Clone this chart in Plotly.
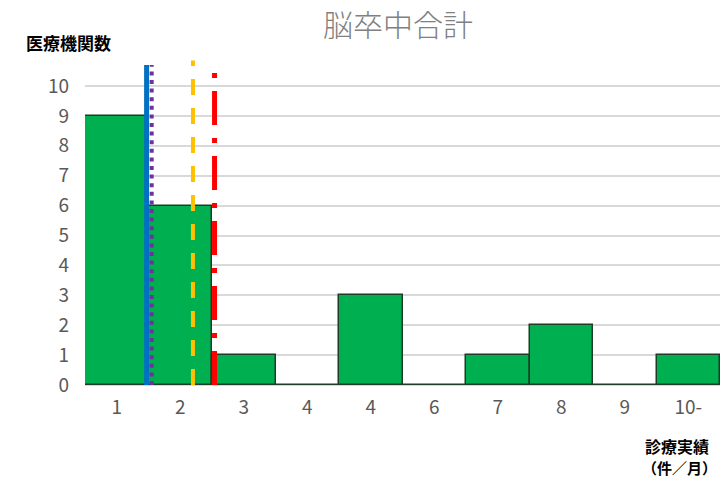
import plotly.graph_objects as go

categories = ["1", "2", "3", "4", "4", "6", "7", "8", "9", "10-"]
counts = [9, 6, 1, 0, 3, 0, 1, 2, 0, 1]

# reference lines (positions on the category index scale)
line_names = ["blue", "purple", "yellow", "red"]
line_x = [0.47, 0.55, 1.20, 1.54]
line_top = [10.7, 10.7, 10.85, 10.55]
line_colors = ["#0070C0", "#7030A0", "#FFC000", "#FF0000"]
line_widths = [5, 4, 4, 5]
line_dash = ["solid", "4px,4.6px", "16px,13px", "34px,13px,5px,13px"]

idx = list(range(len(categories)))

fig = go.Figure()
fig.add_trace(go.Bar(
    x=idx, y=counts, width=1.0,
    marker=dict(color="#00B050", line=dict(color="#1E3D27", width=1.5)),
    showlegend=False, hoverinfo="skip",
))
for i in range(len(line_names)):
    fig.add_trace(go.Scatter(
        x=[line_x[i], line_x[i]], y=[0, line_top[i]], mode="lines",
        line=dict(color=line_colors[i], width=line_widths[i], dash=line_dash[i]),
        showlegend=False, hoverinfo="skip",
    ))

font_main = "Noto Sans CJK JP, Noto Sans, sans-serif"
fig.update_layout(
    width=720, height=481,
    margin=dict(l=85, r=0, t=60, b=96),
    plot_bgcolor="white", paper_bgcolor="white",
    bargap=0,
    font=dict(family=font_main, color="#595959", size=19),
    title=dict(text="脳卒中合計", x=398/720, xanchor="center",
               y=1-25/481, yanchor="middle", yref="container",
               font=dict(size=30, color="#808080", family=font_main, weight=300)),
    xaxis=dict(range=[-0.5, 9.5], tickmode="array", tickvals=idx, ticktext=categories,
               showgrid=False, zeroline=False, showline=False, ticks="",
               ticklabelstandoff=9, tickfont=dict(size=19, color="#595959")),
    yaxis=dict(range=[0, 10.87], tickmode="array", tickvals=list(range(0, 11)),
               showgrid=True, gridcolor="#D9D9D9", gridwidth=1.5,
               zeroline=True, zerolinecolor="#D9D9D9", zerolinewidth=1.5,
               showline=False, ticks="", ticklabelstandoff=15,
               tickfont=dict(size=19, color="#595959")),
    annotations=[
        dict(text="<b>医療機関数</b>", xref="paper", yref="paper",
             x=(24-85)/635, y=(385-43)/325, xanchor="left", yanchor="middle",
             showarrow=False, font=dict(size=17, color="#000000", family=font_main)),
        dict(text="<b>診療実績</b>", xref="paper", yref="paper",
             x=(677-85)/635, y=(385-446)/325, xanchor="center", yanchor="middle",
             showarrow=False, font=dict(size=16, color="#000000", family=font_main)),
        dict(text="<b>（件／月）</b>", xref="paper", yref="paper",
             x=(679-85)/635, y=(385-467)/325, xanchor="center", yanchor="middle",
             showarrow=False, font=dict(size=15, color="#000000", family=font_main)),
    ],
)

fig.write_html("out.html", config={"displayModeBar": False},
               post_script="document.body.style.margin='0';document.body.style.overflow='hidden';")
